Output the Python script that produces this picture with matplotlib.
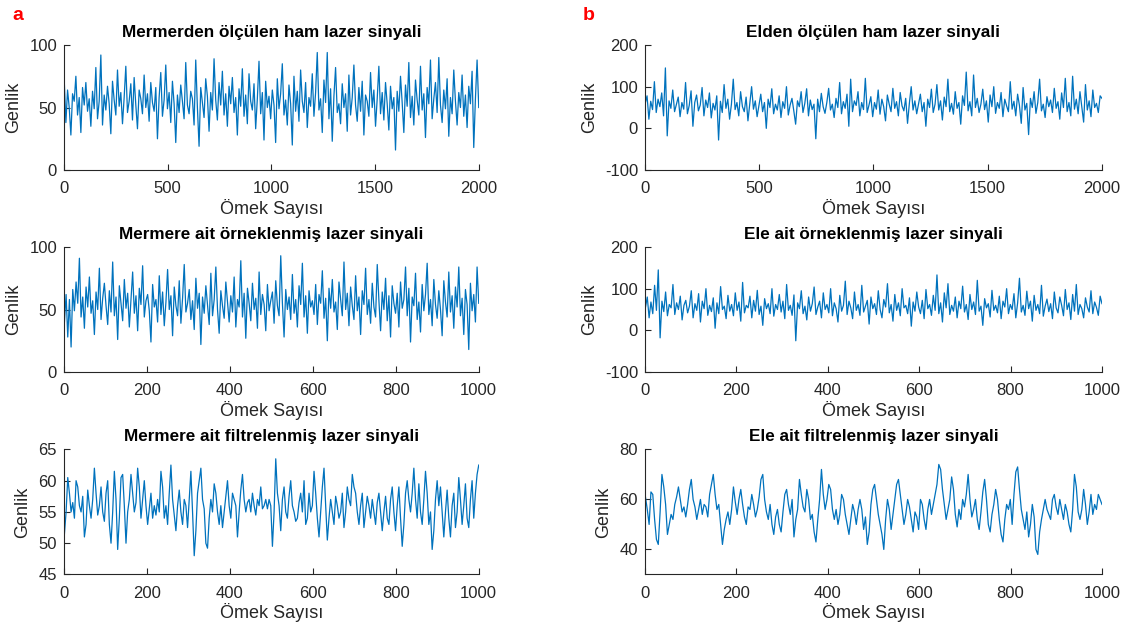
import matplotlib.pyplot as plt
import numpy as np

plt.rcParams['font.family'] = ['Liberation Sans', 'DejaVu Sans']
plt.rcParams['axes.unicode_minus'] = False

# Marble - raw laser signal (2000 samples, read approx.)
marble_raw = [72, 38, 64, 50, 28, 61, 55, 75, 44, 58, 30, 66, 52, 70, 47, 57, 35, 63, 49, 82, 41, 55, 92, 36, 60,
              48, 67, 53, 29, 71, 56, 44, 80, 51, 62, 37, 58, 83, 46, 55, 69, 40, 74, 52, 33, 64, 57, 45, 76, 50,
              61, 39, 70, 54, 47, 66, 25, 58, 78, 43, 56, 84, 49, 62, 38, 71, 53, 22, 60, 46, 68, 55, 41, 86, 52,
              45, 63, 57, 36, 88, 50, 19, 66, 54, 42, 73, 59, 31, 62, 48, 89, 56, 40, 70, 52, 79, 44, 61, 35, 67,
              53, 74, 46, 58, 28, 65, 51, 81, 43, 60, 37, 77, 55, 48, 69, 33, 57, 87, 45, 62, 24, 71, 50, 59, 41,
              64, 52, 22, 73, 49, 61, 85, 44, 56, 36, 68, 53, 20, 75, 47, 63, 39, 80, 55, 46, 70, 34, 58, 51, 77,
              43, 62, 94, 48, 57, 30, 72, 54, 94, 41, 65, 23, 59, 82, 46, 53, 37, 69, 50, 61, 31, 76, 44, 58, 84,
              52, 39, 66, 47, 71, 28, 60, 55, 43, 78, 50, 64, 35, 57, 83, 45, 62, 40, 70, 53, 32, 67, 49, 58, 16,
              63, 47, 75, 54, 30, 68, 51, 86, 42, 59, 36, 72, 56, 44, 83, 48, 61, 26, 66, 53, 88, 41, 57, 70, 46,
              90, 52, 38, 64, 49, 73, 27, 58, 45, 80, 55, 36, 62, 50, 76, 43, 60, 34, 67, 53, 79, 18, 57, 88, 50]

# Marble - sampled signal (1000 samples)
marble_sampled = [40, 62, 28, 58, 20, 66, 49, 72, 55, 91, 44, 60, 35, 68, 52, 76, 47, 57, 30, 64, 50, 83, 42, 59, 71,
                  53, 38, 65, 48, 88, 45, 60, 26, 69, 55, 41, 74, 51, 63, 36, 58, 80, 47, 61, 33, 67, 54, 85, 44, 57,
                  62, 49, 24, 70, 52, 58, 40, 77, 46, 64, 37, 56, 82, 50, 61, 29, 68, 53, 45, 73, 39, 59, 86, 48, 55,
                  66, 42, 57, 34, 75, 51, 63, 22, 60, 47, 69, 54, 38, 79, 45, 58, 84, 50, 31, 65, 53, 43, 72, 56, 40,
                  61, 48, 76, 36, 58, 52, 89, 44, 63, 27, 67, 55, 41, 71, 50, 59, 35, 80, 46, 62, 54, 33, 70, 49, 57,
                  64, 39, 73, 53, 45, 93, 55, 28, 66, 50, 60, 42, 78, 47, 58, 36, 69, 54, 87, 44, 61, 31, 65, 52, 57,
                  46, 70, 38, 62, 55, 81, 43, 59, 25, 67, 51, 74, 48, 56, 34, 72, 58, 45, 88, 50, 63, 37, 68, 53, 42,
                  77, 49, 60, 30, 65, 54, 83, 46, 58, 39, 71, 52, 44, 86, 57, 33, 64, 50, 75, 41, 61, 28, 69, 55, 47,
                  63, 36, 72, 51, 58, 84, 45, 67, 24, 60, 53, 79, 42, 56, 32, 70, 49, 62, 87, 46, 58, 37, 74, 54, 43,
                  65, 50, 29, 73, 56, 44, 80, 48, 61, 35, 68, 52, 84, 45, 59, 30, 66, 54, 18, 71, 49, 62, 40, 84, 55]

# Marble - filtered signal (1000 samples)
marble_filtered = [51.5, 55, 60.5, 58, 55, 56.5, 54, 60, 59, 56, 55, 57.5, 51, 53, 58.5, 56, 54, 57, 62, 58, 54.5, 56, 59, 55, 53.5,
                   58, 60, 53, 50, 55, 61.5, 57, 49, 54, 60.5, 61, 56, 50, 55, 57, 61, 58, 55, 56.5, 62, 59, 54, 57, 60, 56,
                   53, 55.5, 58, 54, 56, 54.5, 57, 55, 61.5, 59, 54, 56, 53, 58, 62.5, 57, 54.5, 52, 56, 58.5, 55, 53, 57, 56, 52.5,
                   57, 61.5, 55, 48, 52, 58, 60, 62, 57, 55.5, 50, 49.2, 54, 57, 55, 59.5, 58, 55, 53, 56, 52.5, 55, 57.5, 60, 56,
                   54, 58, 57, 56, 51, 55, 58.5, 61, 57, 55, 56.5, 57, 55, 58, 56, 54.5, 57, 56, 59, 55.5, 56, 57, 55.5, 57, 56,
                   49.5, 55, 63.5, 58, 56, 52, 57, 59, 55, 54, 57.5, 60, 56, 55, 53.5, 54, 56.5, 58, 55, 60, 53, 54, 58, 55, 56,
                   61.5, 58, 54, 51, 55, 59, 62, 56, 50.5, 54, 57, 55, 53, 57.5, 56, 54, 55, 58, 52.5, 55, 59, 57, 56, 61, 59,
                   58, 55, 53, 56, 58, 52.5, 55, 57.5, 56, 54, 57, 55, 53, 56.5, 58, 55, 52, 55, 57.5, 54, 53, 57, 59, 55, 52,
                   56, 59, 54, 49.5, 53, 58, 60, 57, 55, 58, 62, 57, 54, 59.5, 55, 53, 57, 61.5, 58, 53, 55, 49, 52, 57, 60,
                   56, 59, 55, 51, 55, 58.5, 54, 51, 56, 58, 52.5, 55, 60.5, 57, 53, 56, 59.5, 54, 52.5, 57, 60, 54, 58, 61, 62.5]

# Hand - raw laser signal (2000 samples)
hand_raw = [60, 78, 22, 65, 45, 112, 38, 70, 52, 85, 30, 145, -18, 66, 48, 92, 40, 58, 75, 28, 62, 46, 110, 35, 55,
            90, 5, 62, 80, 42, 56, 98, 30, 68, 50, 85, 25, 60, 44, 78, -28, 65, 38, 105, 48, 70, 22, 58, 118, 45,
            62, 30, 88, 52, 40, 75, 18, 60, 100, 46, 66, 28, 55, 82, 40, 62, 0, 70, 50, 95, 35, 58, 44, 78, 26,
            64, 48, 100, 32, 56, 72, 42, 10, 66, 52, 88, 38, 60, 95, 30, 68, 45, 58, -25, 70, 40, 84, 52, 36, 62,
            96, 44, 58, 26, 72, 50, 110, 35, 64, 48, 82, 5, 118, 40, 66, 55, 88, 30, 62, 45, 120, 38, 56, 76, 28,
            62, 46, 92, 34, 70, 52, 18, 80, 58, 40, 96, 48, 64, 30, 86, 54, 42, 72, 12, 60, 100, 44, 66, 35, 58,
            82, 40, 62, 5, 70, 50, 94, 38, 58, 105, 44, 66, 20, 75, 52, 118, 40, 60, 34, 88, 48, 62, 10, 78, 55,
            135, 42, 64, 30, 128, 50, 72, 38, 58, 94, 45, 66, 15, 80, 52, 100, 36, 62, 48, 86, 28, 70, 54, 40, 112,
            46, 65, 30, 82, 55, 12, 98, 44, 60, -15, 72, 50, 88, 36, 62, 118, 42, 58, 26, 76, 52, 68, 38, 96, 48,
            64, 22, 85, 50, 120, 40, 62, 30, 125, 46, 70, 35, 88, 52, 15, 105, 44, 66, 28, 92, 50, 60, 38, 78, 72]

# Hand - sampled signal (1000 samples)
hand_sampled = [55, 80, 30, 68, 40, 108, 48, 145, -18, 70, 45, 92, 35, 62, 54, 110, 38, 66, 50, 82, 25, 60, 72, 42, 58,
                95, 30, 64, 48, 88, 20, 70, 52, 100, 36, 60, 45, 78, 5, 66, 40, 105, 50, 58, 28, 84, 46, 62, 35, 90,
                48, 68, 22, 115, 42, 60, 54, 82, 30, 72, 46, 96, 38, 58, 12, 76, 52, 64, 40, 100, 34, 62, 50, 86, 44,
                70, 28, 110, 48, 60, 36, 85, -25, 66, 52, 95, 40, 58, 25, 80, 46, 64, 104, 38, 56, 70, 30, 90, 50, 62,
                42, 100, 35, 66, 52, 20, 84, 46, 60, 118, 38, 70, 54, 28, 92, 48, 62, 36, 108, 44, 58, 72, 15, 80, 52,
                64, 38, 95, 50, 30, 74, 56, 112, 42, 62, 22, 86, 48, 66, 35, 100, 54, 60, 40, 78, 10, 68, 46, 92, 56,
                40, 72, 28, 98, 52, 62, 36, 84, 48, 133, 40, 66, 20, 90, 54, 112, 38, 60, 46, 80, 30, 70, 52, 106, 44,
                62, 26, 86, 50, 68, 38, 120, 46, 58, 12, 76, 54, 64, 32, 96, 48, 60, 42, 82, 28, 70, 56, 100, 40, 62,
                50, 88, 30, 66, 125, 44, 60, 36, 94, 52, 70, 22, 84, 48, 62, 40, 108, 34, 58, 75, 45, 64, 28, 92, 54,
                42, 80, 60, 35, 98, 50, 66, 26, 86, 46, 110, 38, 62, 52, 30, 78, 56, 44, 95, 40, 68, 55, 36, 82, 64]

# Hand - filtered signal (1000 samples)
hand_filtered = [61, 56, 50, 63, 62, 52, 44, 42, 55, 70, 65, 58, 46, 50, 54, 52, 58, 61, 65, 60, 55, 57, 53, 58, 64,
                 68, 60, 57, 52, 56, 60, 54, 58, 57, 53, 62, 66, 70, 62, 56, 58, 50, 42, 48, 52, 55, 50, 56, 65, 59,
                 54, 60, 64, 58, 53, 50, 57, 56, 62, 58, 53, 56, 61, 68, 70, 60, 55, 52, 58, 50, 46, 53, 56, 50, 47,
                 55, 62, 64, 58, 54, 60, 45, 52, 56, 68, 62, 57, 55, 64, 60, 52, 54, 47, 43, 52, 60, 72, 62, 56, 60,
                 66, 64, 56, 52, 56, 50, 54, 62, 60, 54, 50, 46, 52, 58, 55, 50, 56, 60, 56, 48, 53, 42, 47, 58, 64,
                 66, 60, 54, 50, 46, 40, 52, 60, 56, 48, 54, 60, 66, 68, 62, 56, 50, 54, 60, 57, 52, 47, 55, 53, 48,
                 60, 58, 52, 48, 56, 60, 54, 58, 62, 66, 74, 72, 64, 58, 52, 56, 60, 69, 64, 54, 49, 56, 52, 60, 57,
                 62, 70, 60, 53, 56, 60, 52, 48, 55, 63, 68, 60, 50, 47, 54, 58, 64, 60, 52, 46, 43, 52, 58, 56, 60,
                 50, 62, 71, 73, 64, 56, 52, 48, 55, 45, 50, 58, 53, 40, 38, 47, 52, 56, 60, 56, 54, 52, 60, 62, 57,
                 54, 60, 56, 52, 58, 55, 50, 47, 56, 70, 65, 55, 52, 56, 64, 58, 50, 55, 62, 54, 58, 56, 62, 60, 58]

titles_left = ['Mermerden ölçülen ham lazer sinyali',
               'Mermere ait örneklenmiş lazer sinyali',
               'Mermere ait filtrelenmiş lazer sinyali']
titles_right = ['Elden ölçülen ham lazer sinyali',
                'Ele ait örneklenmiş lazer sinyali',
                'Ele ait filtrelenmiş lazer sinyali']

line_color = '#0072BD'
text_color = '#262626'

fig = plt.figure(figsize=(11.27, 6.33), dpi=100)

row_bottoms = [0.7314, 0.4123, 0.0925]
ax_h = 0.1975
col_lefts = [0.0568, 0.5723]
col_widths = [0.368, 0.4055]

panels = [
    (0, 0, marble_raw, 2000, (0, 100), [0, 50, 100], titles_left[0]),
    (0, 1, marble_sampled, 1000, (0, 100), [0, 50, 100], titles_left[1]),
    (0, 2, marble_filtered, 1000, (45, 65), [45, 50, 55, 60, 65], titles_left[2]),
    (1, 0, hand_raw, 2000, (-100, 200), [-100, 0, 100, 200], titles_right[0]),
    (1, 1, hand_sampled, 1000, (-100, 200), [-100, 0, 100, 200], titles_right[1]),
    (1, 2, hand_filtered, 1000, (30, 80), [40, 60, 80], titles_right[2]),
]

for col, row, values, n, ylim, yticks, title in panels:
    ax = fig.add_axes([col_lefts[col], row_bottoms[row], col_widths[col], ax_h])
    x = np.linspace(1, n, len(values))
    ax.plot(x, values, color=line_color, lw=0.9)
    ax.set_xlim(0, n)
    ax.set_ylim(*ylim)
    ax.set_yticks(yticks)
    ax.set_xticks(np.linspace(0, n, 5 if n == 2000 else 6))
    for s in ['top', 'right']:
        ax.spines[s].set_visible(False)
    for s in ['left', 'bottom']:
        ax.spines[s].set_color(text_color)
        ax.spines[s].set_linewidth(0.8)
    ax.tick_params(direction='in', length=4, width=0.8, colors=text_color, labelsize=12)
    ax.tick_params(axis='x', pad=8)
    ax.tick_params(axis='y', pad=5)
    ax.set_title(title, fontsize=12.3, fontweight='bold', color='black', pad=6)
    ax.set_ylabel('Genlik', fontsize=13, color=text_color, labelpad=5)
    ax.set_xlabel('Ömek Sayısı', fontsize=13, color=text_color, labelpad=2,
                  bbox=dict(facecolor='white', edgecolor='none', pad=1))

fig.text(12 / 1127, 1 - 15 / 633, 'a', color='red', fontsize=14, fontweight='bold', va='center')
fig.text(583 / 1127, 1 - 15 / 633, 'b', color='red', fontsize=14, fontweight='bold', va='center')

fig.savefig('out.png', dpi=100)
